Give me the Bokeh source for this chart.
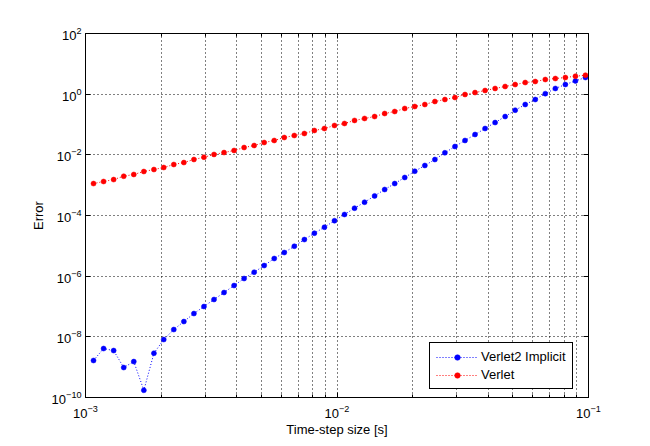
from bokeh.plotting import figure
from bokeh.models import FixedTicker, LogAxis, CustomJSTickFormatter
from bokeh.embed import file_html
from bokeh.resources import INLINE

# Time-step sizes [s]
dt = [1.076e-3, 1.180e-3, 1.294e-3, 1.419e-3, 1.556e-3, 1.706e-3, 1.871e-3, 2.047e-3,
      2.244e-3, 2.461e-3, 2.698e-3, 2.958e-3, 3.243e-3, 3.555e-3, 3.897e-3, 4.272e-3,
      4.684e-3, 5.134e-3, 5.629e-3, 6.171e-3, 6.765e-3, 7.417e-3, 8.128e-3, 8.913e-3,
      9.770e-3, 1.071e-2, 1.174e-2, 1.287e-2, 1.411e-2, 1.547e-2, 1.696e-2, 1.859e-2,
      2.038e-2, 2.235e-2, 2.450e-2, 2.685e-2, 2.944e-2, 3.228e-2, 3.539e-2, 3.879e-2,
      4.253e-2, 4.662e-2, 5.110e-2, 5.603e-2, 6.142e-2, 6.734e-2, 7.382e-2, 8.091e-2,
      8.872e-2, 9.725e-2]

err_verlet2_implicit = [1.66e-9, 4.11e-9, 3.53e-9, 9.72e-10, 1.53e-9, 1.73e-10, 2.88e-9, 8.15e-9,
                        1.74e-8, 3.19e-8, 5.86e-8, 9.98e-8, 1.70e-7, 2.89e-7, 4.91e-7, 8.36e-7,
                        1.35e-6, 2.24e-6, 3.82e-6, 6.01e-6, 9.70e-6, 1.61e-5, 2.61e-5, 4.11e-5,
                        6.73e-5, 1.08e-4, 1.74e-4, 2.74e-4, 4.43e-4, 7.19e-4, 1.13e-3, 1.79e-3,
                        2.88e-3, 4.45e-3, 7.01e-3, 1.17e-2, 1.88e-2, 2.97e-2, 4.68e-2, 7.38e-2,
                        0.116, 0.183, 0.296, 0.456, 0.667, 1.04, 1.54, 2.08,
                        2.74, 3.54]

err_verlet = [1.13e-3, 1.32e-3, 1.53e-3, 1.97e-3, 2.25e-3, 2.82e-3, 3.28e-3, 3.82e-3,
              4.80e-3, 5.58e-3, 7.01e-3, 8.35e-3, 1.03e-2, 1.19e-2, 1.39e-2, 1.74e-2,
              2.03e-2, 2.55e-2, 2.97e-2, 3.72e-2, 4.34e-2, 5.05e-2, 6.34e-2, 7.38e-2,
              9.27e-2, 0.108, 0.136, 0.158, 0.183, 0.230, 0.268, 0.337,
              0.392, 0.456, 0.573, 0.667, 0.776, 0.975, 1.13, 1.32,
              1.54, 1.79, 2.08, 2.42, 2.61, 3.04, 3.28, 3.54,
              3.91, 4.22]

x_ticks = [1e-3, 1e-2, 1e-1]
x_minor_ticks = [2e-3, 3e-3, 4e-3, 5e-3, 6e-3, 7e-3, 8e-3, 9e-3,
                 2e-2, 3e-2, 4e-2, 5e-2, 6e-2, 7e-2, 8e-2, 9e-2]
y_ticks = [1e-10, 1e-8, 1e-6, 1e-4, 1e-2, 1e0, 1e2]

FONT = "Liberation Sans"

p = figure(width=650, height=446, x_axis_type="log", y_axis_type="log",
           x_range=(1e-3, 1e-1), y_range=(1e-10, 1e2),
           output_backend="svg", toolbar_location=None,
           min_border_left=85, min_border_right=62, min_border_top=33, min_border_bottom=49)
p.background_fill_color = "white"
p.border_fill_color = "white"
p.outline_line_color = "black"
p.outline_line_width = 1
p.outline_line_alpha = 1

xt = FixedTicker(ticks=x_ticks, minor_ticks=x_minor_ticks)
yt = FixedTicker(ticks=y_ticks)

p.xaxis.ticker = xt
p.yaxis.ticker = yt
p.xgrid.ticker = xt
p.ygrid.ticker = yt

for g in (p.xgrid, p.ygrid):
    g.grid_line_color = "black"
    g.grid_line_dash = "1 3"
    g.grid_line_width = 1
    g.grid_line_alpha = 1
p.xgrid.minor_grid_line_color = "black"
p.xgrid.minor_grid_line_dash = "1 3"
p.xgrid.minor_grid_line_width = 1

for ax in (p.xaxis[0], p.yaxis[0]):
    ax.axis_line_color = "black"
    ax.major_tick_line_color = "black"
    ax.minor_tick_line_color = "black"
    ax.major_tick_in = 5
    ax.major_tick_out = 0
    ax.minor_tick_in = 3
    ax.minor_tick_out = 0
    ax.major_label_text_font = FONT
    ax.major_label_text_font_size = "13px"
    ax.major_label_text_color = "black"
    ax.axis_label_text_font = FONT
    ax.axis_label_text_font_size = "13px"
    ax.axis_label_text_font_style = "normal"
    ax.axis_label_text_color = "black"
p.yaxis.minor_tick_line_color = None
p.xaxis.axis_label = "Time-step size [s]"
p.yaxis.axis_label = "Error"
p.xaxis.major_label_standoff = 7
p.yaxis.major_label_standoff = 4
p.xaxis.axis_label_standoff = 1
p.yaxis.axis_label_standoff = 3

blank = CustomJSTickFormatter(code="return ''")
top = LogAxis(ticker=FixedTicker(ticks=x_ticks, minor_ticks=x_minor_ticks), formatter=blank,
              major_tick_in=5, major_tick_out=0, minor_tick_in=3, minor_tick_out=0,
              axis_line_color="black", major_label_standoff=0)
right = LogAxis(ticker=FixedTicker(ticks=y_ticks), formatter=blank,
                major_tick_in=5, major_tick_out=0, minor_tick_line_color=None,
                axis_line_color="black", major_label_standoff=0)
p.add_layout(top, "above")
p.add_layout(right, "right")

p.line(dt, err_verlet2_implicit, line_color="blue", line_dash="1 2", line_width=1,
       legend_label="Verlet2 Implicit")
p.scatter(dt, err_verlet2_implicit, marker="circle", size=5, fill_color="blue",
          line_color="blue", line_width=0.5, legend_label="Verlet2 Implicit")
p.line(dt, err_verlet, line_color="red", line_dash="1 2", line_width=1,
       legend_label="Verlet")
p.scatter(dt, err_verlet, marker="circle", size=5, fill_color="red",
          line_color="red", line_width=0.5, legend_label="Verlet")

lg = p.legend[0]
lg.location = (344, 8)
lg.margin = 0
lg.padding = 6
lg.spacing = 3
lg.glyph_width = 42
lg.glyph_height = 14
lg.label_height = 14
lg.label_standoff = 3
lg.label_text_font = FONT
lg.label_text_font_size = "13px"
lg.label_text_color = "black"
lg.border_line_color = "black"
lg.border_line_width = 1
lg.border_line_alpha = 1
lg.background_fill_color = "white"
lg.background_fill_alpha = 1

open("out.html", "w").write(file_html(p, INLINE))
